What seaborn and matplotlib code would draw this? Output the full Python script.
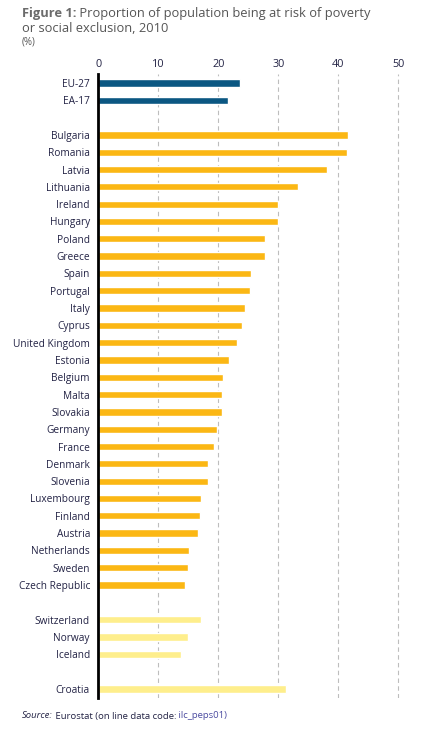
import numpy as np
import pandas as pd
import matplotlib
matplotlib.use("Agg")
import matplotlib.pyplot as plt
import seaborn as sns

# Datos
aggregates = ["EU-27", "EA-17"]
aggregate_values = [23.6, 21.6]

members = ["Bulgaria", "Romania", "Latvia", "Lithuania", "Ireland", "Hungary",
           "Poland", "Greece", "Spain", "Portugal", "Italy", "Cyprus",
           "United Kingdom", "Estonia", "Belgium", "Malta", "Slovakia",
           "Germany", "France", "Denmark", "Slovenia", "Luxembourg", "Finland",
           "Austria", "Netherlands", "Sweden", "Czech Republic"]
member_values = [41.6, 41.4, 38.1, 33.3, 29.9, 29.9, 27.8, 27.7, 25.5, 25.3,
                 24.5, 23.9, 23.1, 21.7, 20.7, 20.6, 20.6, 19.7, 19.3, 18.3,
                 18.3, 17.1, 16.9, 16.6, 15.1, 15.0, 14.4]

efta = ["Switzerland", "Norway", "Iceland"]
efta_values = [17.1, 15.0, 13.8]

candidates = ["Croatia"]
candidate_values = [31.3]

x_ticks = [0, 10, 20, 30, 40, 50]

colors = {"agg": "#0B5782", "eu": "#FBB714", "other": "#FEEE8C"}
text_dark = "#222244"

# Construir tabla para seaborn
df = pd.DataFrame({
    "pais": aggregates + members + efta + candidates,
    "valor": aggregate_values + member_values + efta_values + candidate_values,
    "grupo": (["agg"] * len(aggregates) + ["eu"] * len(members)
              + ["other"] * (len(efta) + len(candidates))),
})
order = aggregates + ["_g1"] + members + ["_g2"] + efta + ["_g3"] + candidates

sns.set_style("white")
plt.rcParams["font.family"] = ["Open Sans", "DejaVu Sans"]

fig = plt.figure(figsize=(4.22, 7.32), dpi=100)
ax = fig.add_axes([98.3 / 422, 34.4 / 732, 306 / 422, (697.6 - 74.3) / 732])

sns.barplot(data=df, x="valor", y="pais", hue="grupo", order=order,
            palette=colors, dodge=False, width=0.42, legend=False, ax=ax,
            saturation=1)

ax.set_xlim(0, 51)
ax.set_ylim(len(order) - 0.5, -0.5)
ax.set_xlabel("")
ax.set_ylabel("")

# Eje x arriba
ax.xaxis.tick_top()
ax.set_xticks(x_ticks)
ax.set_xticklabels([str(t) for t in x_ticks], fontsize=7.8, color=text_dark)
ax.tick_params(axis="x", length=0, pad=3)

# Rejilla discontinua
for t in x_ticks[1:]:
    ax.axvline(t, color="#BDBDBD", linestyle=(0, (4, 3)), linewidth=0.8, zorder=0)

# Etiquetas del eje y
labels = ["" if name.startswith("_g") else name for name in order]
ax.set_yticks(range(len(order)))
ax.set_yticklabels(labels, fontsize=7.3, color=text_dark)
ax.tick_params(axis="y", length=0, pad=6)
bounds = [i - 0.5 for i in range(len(order) + 1) if i != 1]
ax.set_yticks(bounds, minor=True)
ax.tick_params(axis="y", which="minor", length=4, width=1.5, color="black")

for side in ["top", "right", "bottom"]:
    ax.spines[side].set_visible(False)
ax.spines["left"].set_linewidth(2)
ax.spines["left"].set_color("black")

# Título
t1 = fig.text(22 / 422, 1 - 13 / 732, "Figure 1:", fontsize=9.3, fontweight="bold",
              color="#6B6B6B", va="center")
ax.annotate(" Proportion of population being at risk of poverty", xy=(1, 0.5),
            xycoords=t1, va="center", fontsize=9.3, color="#555555")
fig.text(22 / 422, 1 - 28 / 732, "or social exclusion, 2010",
         fontsize=9.3, color="#555555", va="center")
fig.text(22 / 422, 1 - 42 / 732, "(%)", fontsize=7, color="#555555", va="center")

# Fuente
s1 = fig.text(22 / 422, 1 - 716 / 732, "Source:", fontsize=6.8, style="italic",
              color=text_dark, va="center")
s2 = ax.annotate(" Eurostat (on line data code:", xy=(1, 0.5), xycoords=s1,
                 va="center", fontsize=6.8, color=text_dark)
ax.annotate(" ilc_peps01)", xy=(1, 0.5), xycoords=s2, va="center",
            fontsize=6.8, color="#4B4BA0")

fig.savefig("out.png", dpi=100)
